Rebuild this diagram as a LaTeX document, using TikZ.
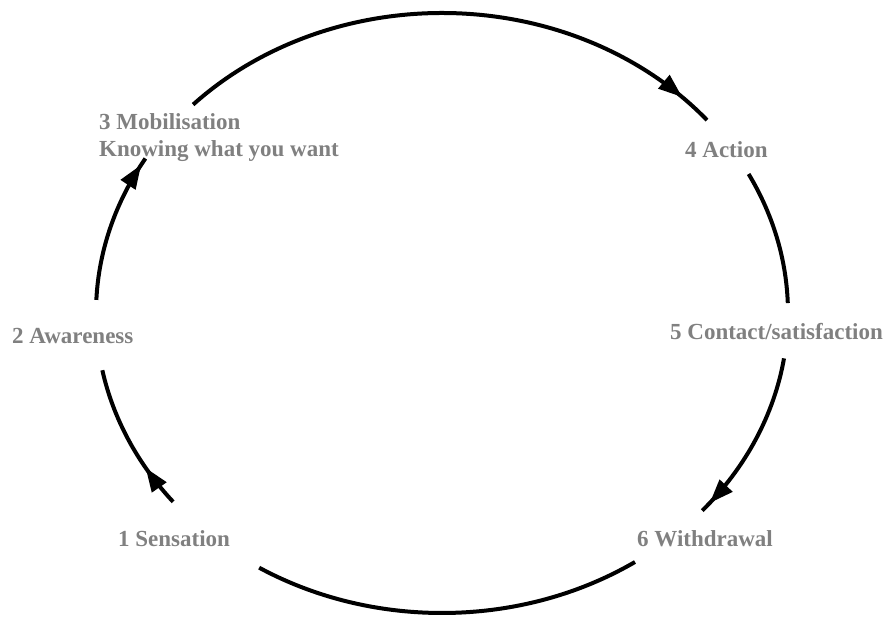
\documentclass[tikz,border=0pt]{standalone}
\usepackage{fontspec}
\setmainfont{Liberation Serif}
\usepackage{tikz}
\usetikzlibrary{arrows.meta}
\usetikzlibrary{decorations.markings}
\definecolor{stagegray}{RGB}{128,128,128}

\tikzset{flow/.style={postaction={decorate, decoration={markings, mark=at position #1 with {\arrow{>}}}}}}

\begin{document}
\begin{tikzpicture}[x=1pt, y=1pt, >={Triangle[length=24pt,width=17pt]}]
			\tikzstyle{stage} = [inner sep=0pt, text=stagegray, font=\fontsize{23}{27}\selectfont\bfseries]
			\tikzstyle{ring} = [line width=4pt]

			\useasboundingbox (-442,-304) rectangle (447,313);

			\path
			node[stage, anchor=base west] (sens) at (-324,-234) {1 Sensation}
			node[stage, anchor=base west] (aware) at (-430,-31) {2 Awareness}
			node[stage, anchor=north west, align=left] (mobil) at (-343,200) {3 Mobilisation\\Knowing what you want}
			node[stage, anchor=base west] (action) at (243,155) {4 Action}
			node[stage, anchor=base west] (contact) at (228,-27) {5 Contact/satisfaction}
			node[stage, anchor=base west] (withd) at (195,-234) {6 Withdrawal}
			;

			% ends of the arcs on the ring
			\coordinate (a1) at (219:346pt and 300pt);
			\coordinate (a2) at (177.5:346pt and 300pt);
			\coordinate (a3) at (136:346pt and 300pt);
			\coordinate (a4) at (27.6:346pt and 300pt);
			\coordinate (a5) at (-8.7:346pt and 300pt);
			\coordinate (a6) at (-56.1:346pt and 300pt);

			\draw[ring, flow=0.29] (a1) arc[start angle=219, end angle=191, x radius=346pt, y radius=300pt];
			\draw[ring, flow=0.95] (a2) arc[start angle=177.5, end angle=149, x radius=346pt, y radius=300pt];
			\draw[ring, flow=0.94] (a3) arc[start angle=136, end angle=40, x radius=346pt, y radius=300pt];
			\draw[ring] (a4) arc[start angle=27.6, end angle=1.9, x radius=346pt, y radius=300pt];
			\draw[ring, flow=0.94] (a5) arc[start angle=-8.7, end angle=-41.2, x radius=346pt, y radius=300pt];
			\draw[ring] (a6) arc[start angle=-56.1, end angle=-121.9, x radius=346pt, y radius=300pt];

\end{tikzpicture}
\end{document}
